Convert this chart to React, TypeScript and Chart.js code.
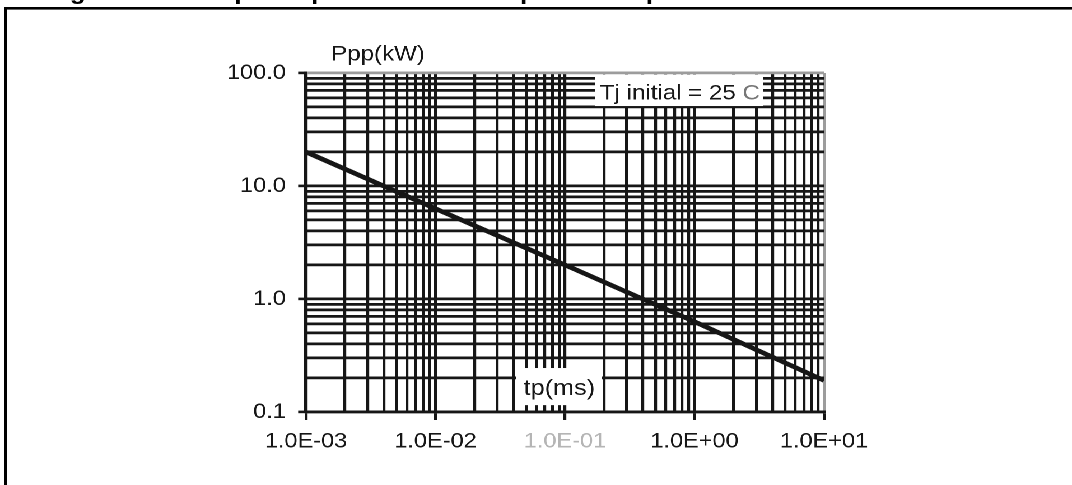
import React, { useEffect, useRef } from "react";
import { Chart, registerables } from "chart.js";

Chart.register(...registerables);

// ---- data ----
const tpMs = [0.001, 0.01, 0.1, 1, 10];
const pppKw = [20, 6.3, 2.0, 0.63, 0.19];

// ---- axes ----
const xDecades = [0.001, 0.01, 0.1, 1, 10];
const xTickLabels = ["1.0E-03", "1.0E-02", "1.0E-01", "1.0E+00", "1.0E+01"];
const yDecades = [0.1, 1, 10, 100];
const yTickLabels = ["0.1", "1.0", "10.0", "100.0"];

// ---- texts ----
const xAxisTitle = "tp(ms)";
const yAxisTitle = "Ppp(kW)";
const noteText = "Tj initial = 25 ";
const noteUnit = "C";
const captionText = "Figure 2. Peak pulse power versus exponential pulse duration";

const W = 957;
const H = 485;
const SX = 1072 / W;
const FONT = '"Liberation Sans", Arial, Helvetica, sans-serif';
const INK = "#161616";

function gridValues(decades: number[]): number[] {
  const out: number[] = [];
  decades.forEach((d, i) => {
    if (i === decades.length - 1) out.push(d);
    else for (let k = 1; k <= 9; k++) out.push(k * d);
  });
  return out;
}
function decadeIndex(v: number, decades: number[]): number {
  return decades.findIndex((d) => Math.abs(v / d - 1) < 1e-6);
}

const xGrid = gridValues(xDecades);
const yGrid = gridValues(yDecades);

const decorPlugin = {
  id: "decor",
  afterDraw(chart: any) {
    const { ctx } = chart;
    const xs = chart.scales.x;
    const ys = chart.scales.y;
    const area = chart.chartArea;
    ctx.save();
    // outer frame
    ctx.fillStyle = "#000";
    ctx.fillRect(3.6, 7, 2.7, H);
    ctx.fillRect(3.6, 7, W, 2.6);
    // caption (mostly cut off at the top)
    ctx.font = `bold 23.8px ${FONT}`;
    ctx.textAlign = "left";
    ctx.textBaseline = "alphabetic";
    ctx.fillStyle = "#000";
    ctx.fillText(captionText, 41, -1);

    // y axis title
    ctx.fillStyle = INK;
    ctx.font = `21.5px ${FONT}`;
    ctx.textAlign = "center";
    ctx.fillText(yAxisTitle, xs.getPixelForValue(0.0036), area.top - 12.3);

    // Tj note box
    const bx0 = xs.getPixelForValue(0.17);
    const bx1 = xs.getPixelForValue(3.4);
    const by0 = ys.getPixelForValue(97);
    const by1 = ys.getPixelForValue(51);
    ctx.fillStyle = "#fff";
    ctx.fillRect(bx0, by0, bx1 - bx0, by1 - by0);
    ctx.font = `21.5px ${FONT}`;
    ctx.textAlign = "left";
    ctx.fillStyle = INK;
    const tx = xs.getPixelForValue(0.186);
    const ty = ys.getPixelForValue(58.5);
    ctx.fillText(noteText, tx, ty);
    const w = ctx.measureText(noteText).width;
    ctx.fillStyle = "#777";
    ctx.fillText(noteUnit, tx + w, ty);

    // tp(ms) box
    const cx0 = xs.getPixelForValue(0.042);
    const cx1 = xs.getPixelForValue(0.192);
    const cy0 = ys.getPixelForValue(0.245);
    const cy1 = ys.getPixelForValue(0.115);
    ctx.fillStyle = "#fff";
    ctx.fillRect(cx0, cy0, cx1 - cx0, cy1 - cy0);
    ctx.font = `22.5px ${FONT}`;
    ctx.textAlign = "center";
    ctx.fillStyle = INK;
    ctx.fillText(xAxisTitle, xs.getPixelForValue(0.0905), ys.getPixelForValue(0.141));
    ctx.restore();
  },
};

export default function App() {
  const ref = useRef<HTMLCanvasElement | null>(null);
  useEffect(() => {
    if (!ref.current) return;
    const chart = new Chart(ref.current, {
      type: "line",
      data: {
        datasets: [
          {
            data: tpMs.map((x, i) => ({ x, y: pppKw[i] })),
            borderColor: INK,
            borderWidth: 4.6,
            pointRadius: 0,
            tension: 0,
            fill: false,
          },
        ],
      },
      options: {
        animation: false,
        responsive: false,
        devicePixelRatio: 2,
        layout: { padding: { left: 0, top: 73, right: W - 824 / SX, bottom: 0 } },
        plugins: { legend: { display: false }, tooltip: { enabled: false } },
        scales: {
          x: {
            type: "logarithmic",
            min: 0.001,
            max: 10,
            afterFit: (s: any) => {
              s.height = H - 412;
            },
            afterBuildTicks: (s: any) => {
              s.ticks = xGrid.map((v) => ({ value: v }));
            },
            ticks: {
              autoSkip: false,
              maxRotation: 0,
              minRotation: 0,
              padding: 9,
              font: { family: FONT, size: 21 },
              color: (c: any) => (c.tick && decadeIndex(c.tick.value, xDecades) === 2 ? "#b5b5b5" : INK),
              callback: (v: any) => {
                const i = decadeIndex(Number(v), xDecades);
                return i >= 0 ? xTickLabels[i] : "";
              },
            },
            grid: {
              color: (c: any) => (c.tick && decadeIndex(c.tick.value, xDecades) === xDecades.length - 1 ? "#9c9c9c" : INK),
              lineWidth: 2.6,
              drawTicks: true,
              tickLength: 8,
              tickWidth: 2.6,
              tickColor: (c: any) => (c.tick && decadeIndex(c.tick.value, xDecades) >= 0 ? INK : "rgba(0,0,0,0)"),
            },
            border: { display: true, color: INK, width: 2.8 },
          },
          y: {
            type: "logarithmic",
            min: 0.1,
            max: 100,
            afterFit: (s: any) => {
              s.width = 306 / SX;
            },
            afterBuildTicks: (s: any) => {
              s.ticks = yGrid.map((v) => ({ value: v }));
            },
            ticks: {
              autoSkip: false,
              padding: 11,
              font: { family: FONT, size: 21 },
              color: INK,
              callback: (v: any) => {
                const i = decadeIndex(Number(v), yDecades);
                return i >= 0 ? yTickLabels[i] : "";
              },
            },
            grid: {
              color: (c: any) => (c.tick && decadeIndex(c.tick.value, yDecades) === yDecades.length - 1 ? "#9c9c9c" : INK),
              lineWidth: 2.8,
              drawTicks: true,
              tickLength: 7,
              tickWidth: 2.6,
              tickColor: (c: any) => (c.tick && decadeIndex(c.tick.value, yDecades) >= 0 ? INK : "rgba(0,0,0,0)"),
            },
            border: { display: true, color: INK, width: 3 },
          },
        },
      } as any,
      plugins: [decorPlugin],
    });
    return () => chart.destroy();
  }, []);

  return (
    <div
      style={{
        position: "fixed",
        left: 0,
        top: 0,
        width: W,
        height: H,
        background: "#fff",
        transform: `scaleX(${SX})`,
        transformOrigin: "0 0",
      }}
    >
      <canvas ref={ref} width={W} height={H} style={{ display: "block" }} />
    </div>
  );
}
